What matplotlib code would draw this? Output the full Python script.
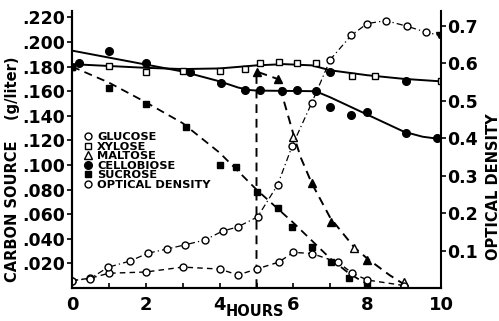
import matplotlib.pyplot as plt
from matplotlib.lines import Line2D

plt.rcParams['font.family'] = ['DejaVu Sans']
plt.rcParams['font.weight'] = 'bold'
plt.rcParams['axes.labelweight'] = 'bold'

# glucose (open circles, dashed)
glu_h = [0, 0.5, 1, 2, 3, 4, 4.5, 5, 5.6, 6, 6.5, 7.2, 7.6, 8, 9]
glu_v = [.006, .008, .012, .013, .017, .0154, .0106, .0154, .021, .029, .028, .021, .012, .0065, .002]

# xylose (open squares) and its fitted solid line
xyl_h = [0, 1, 2, 3, 4, 4.7, 5.1, 5.6, 6.1, 6.6, 7.6, 8.2, 10]
xyl_v = [.180, .1805, .1756, .1764, .1764, .178, .183, .184, .183, .183, .172, .172, .168]
xyl_fit_h = [0, 1, 2, 3, 4, 5, 5.75, 6.5, 7, 8, 9, 10]
xyl_fit_v = [.182, .1805, .179, .178, .1785, .181, .182, .181, .177, .173, .170, .168]

# maltose (added at 5 h)
mal_fit_h = [5, 5, 5.57, 6, 6.2, 6.5, 7, 7.65, 8, 8.6, 9.05, 9.2]
mal_fit_v = [0, .176, .170, .125, .106, .085, .057, .033, .024, .0106, .002, 0]
mal_h = [5.0, 5.57, 6.5, 7.03, 8.0]
mal_v = [.176, .170, .085, .054, .023]
mal_open_h = [6.0, 7.65, 9.0]
mal_open_v = [.123, .0325, .005]

# cellobiose (filled circles) and fitted solid line
cel_h = [0.2, 1, 2, 3.2, 4.05, 4.7, 5.1, 5.7, 6.1, 6.6, 7.0, 7.0, 7.55, 8.0, 9.05, 9.05, 9.9]
cel_v = [.183, .193, .183, .176, .167, .161, .161, .160, .161, .160, .176, .147, .141, .143, .168, .126, .122]
cel_fit_h = [0, 3, 3.5, 4, 4.5, 4.8, 5, 6.6, 7, 9, 9.5, 10]
cel_fit_v = [.193, .176, .172, .168, .163, .161, .1605, .160, .155, .127, .123, .121]

# sucrose (filled squares) and dashed curve
suc_h = [0, 1, 2, 3.1, 4.0, 4.45, 5.0, 5.57, 5.97, 6.5, 7.03, 7.5, 8.0]
suc_v = [.180, .1626, .150, .131, .100, .0985, .078, .065, .050, .033, .021, .008, .0025]
suc_fit_h = [0, 1, 2, 3, 4, 5, 6, 7, 7.5, 8, 8.2]
suc_fit_v = [.180, .167, .151, .134, .110, .080, .053, .024, .012, .003, 0]

# optical density (right axis)
od_h = [0, 0.49, 0.97, 1.57, 2.06, 2.57, 3.05, 3.6, 4.08, 4.49, 5.03, 5.57, 5.97, 6.5,
        7.0, 7.57, 8.0, 8.5, 9.08, 9.6, 9.95]
od_v = [.02, .025, .055, .072, .093, .104, .115, .128, .152, .163, .19, .275, .38, .495,
        .61, .675, .706, .714, .699, .683, .675]

left_ticks = [.02, .04, .06, .08, .10, .12, .14, .16, .18, .20, .22]
left_labels = ['.020', '.040', '.060', '.080', '.100', '.120', '.140', '.160', '.180', '.200', '.220']
od_ticks = [.1, .2, .3, .4, .5, .6, .7]
od_labels = ['0.1', '0.2', '0.3', '0.4', '0.5', '0.6', '0.7']
hour_ticks = [0, 2, 4, 6, 8, 10]

fig = plt.figure(figsize=(4.99, 3.21), dpi=100)
ax = fig.add_axes([72 / 499, 1 - 288 / 321, 369 / 499, 276.75 / 321])
ax2 = ax.twinx()

k = 'black'
ax.plot(cel_fit_h, cel_fit_v, color=k, lw=1.4)
ax.plot(cel_h, cel_v, 'o', color=k, ms=5.5)
ax.plot(xyl_fit_h, xyl_fit_v, color=k, lw=1.4)
ax.plot(xyl_h, xyl_v, 's', mfc='white', mec=k, mew=1, ms=4.5)
ax.plot(suc_fit_h, suc_fit_v, color=k, lw=1.3, dashes=(4.5, 3))
ax.plot(suc_h, suc_v, 's', color=k, ms=4.5)
ax.plot(mal_fit_h, mal_fit_v, color=k, lw=1.4, dashes=(4.5, 3))
ax.plot(mal_h, mal_v, '^', color=k, ms=5.5)
ax.plot(mal_open_h, mal_open_v, '^', mfc='white', mec=k, mew=1, ms=5.5)
ax.plot(glu_h, glu_v, color=k, lw=1.0, dashes=(4, 3), marker='o', mfc='white', mec=k, mew=1, ms=5)

ax2.plot(od_h, od_v, color=k, lw=0.9, dashes=(5, 2.5, 1, 2.5))
ax2.plot(od_h[:-1], od_v[:-1], 'o', mfc='white', mec=k, mew=1, ms=5)
ax2.plot(od_h[-1:], od_v[-1:], 'v', color=k, ms=5)

ax.set_xlim(0, 10)
ax.set_ylim(0, 0.225)
ax2.set_ylim(0, 0.739)

for a in (ax, ax2):
    a.spines['top'].set_visible(False)
    for s in a.spines.values():
        s.set_linewidth(1.5)
ax.spines['right'].set_visible(False)

ax.set_xticks(hour_ticks)
ax.set_xticks([1, 3, 5, 7, 9], minor=True)
ax.tick_params(axis='x', which='both', direction='in', length=3.5, width=1.2, labelsize=13, pad=6)
ax.set_yticks(left_ticks, left_labels)
ax.tick_params(axis='y', direction='out', length=3.5, width=1.2, labelsize=12.5, pad=1.5)
ax2.set_yticks(od_ticks, od_labels)
ax2.tick_params(axis='y', direction='out', length=3.5, width=1.2, labelsize=12.5, pad=1)

ax.set_xlabel('HOURS', fontsize=10.5)
ax.xaxis.set_label_coords(0.496, -0.058)
ax.set_ylabel('CARBON SOURCE    (g/liter)', fontsize=10.5)
ax.yaxis.set_label_coords(-0.142, 0.43)
ax2.set_ylabel('OPTICAL DENSITY', fontsize=10.5)
ax2.yaxis.set_label_coords(1.1206, 0.367)

handles = [
    Line2D([], [], ls='none', marker='o', mfc='white', mec=k, mew=1, ms=5),
    Line2D([], [], ls='none', marker='s', mfc='white', mec=k, mew=1, ms=4.5),
    Line2D([], [], ls='none', marker='^', mfc='white', mec=k, mew=1, ms=5.5),
    Line2D([], [], ls='none', marker='o', color=k, ms=5.5),
    Line2D([], [], ls='none', marker='s', color=k, ms=4.5),
    Line2D([], [], ls='none', marker='o', mfc='white', mec=k, mew=1, ms=5),
]
labels = ['GLUCOSE', 'XYLOSE', 'MALTOSE', 'CELLOBIOSE', 'SUCROSE', 'OPTICAL DENSITY']
ax2.legend(handles, labels, loc='upper left', bbox_to_anchor=(0.031, 0.562), frameon=False,
           prop={'weight': 'bold', 'size': 8.2}, labelspacing=-0.05, handlelength=0.8,
           handletextpad=0.4, borderpad=0, borderaxespad=0, numpoints=1)

fig.savefig('out.png', dpi=100)
